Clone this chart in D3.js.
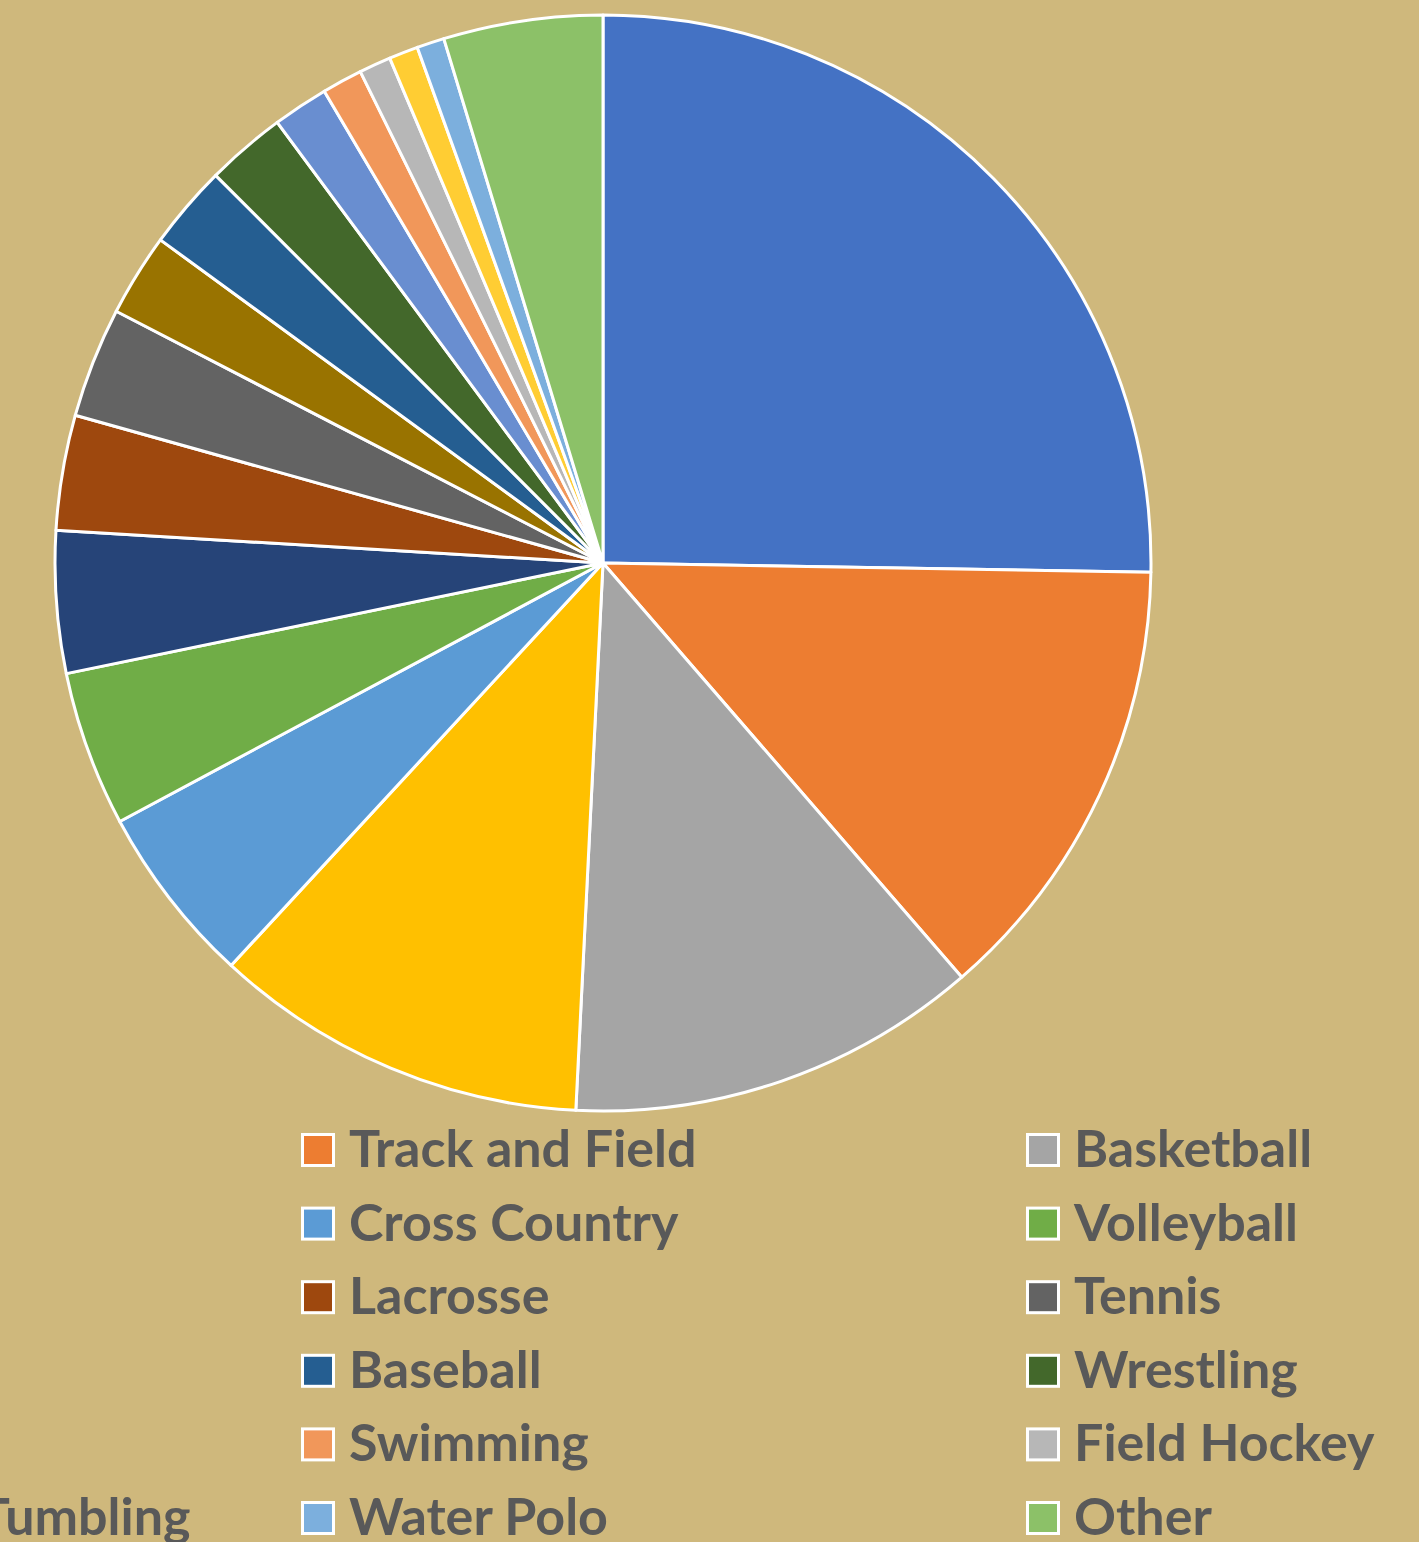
<!DOCTYPE html>
<html>
<head>
<meta charset="utf-8">
<script src="https://cdn.jsdelivr.net/npm/d3@7"></script>
<style>
  html, body { margin: 0; padding: 0; background: #cfb87c; overflow: hidden; }
  .legend text { font-family: Lato, "Open Sans", sans-serif; font-weight: bold; fill: #595959; }
</style>
</head>
<body>
<div class="graph_wrapper"></div>
<script>
  // sports, in slice order (clockwise from 12 o'clock)
  var sports = ['Football', 'Track and Field', 'Basketball', 'Soccer', 'Cross Country', 'Volleyball',
    'Softball', 'Lacrosse', 'Tennis', 'Golf', 'Baseball', 'Wrestling',
    'Ice Hockey', 'Swimming', 'Field Hockey', 'Acrobatics and Tumbling', 'Water Polo', 'Other'];
  // share of each sport, percent
  var shares = [25.26, 13.37, 12.15, 11.08, 5.31, 4.58,
    4.19, 3.39, 3.25, 2.44, 2.47, 2.36,
    1.64, 1.19, 0.94, 0.86, 0.81, 4.69];
  var colors = ['#4472c4', '#ed7d31', '#a5a5a5', '#ffc000', '#5b9bd5', '#70ad47',
    '#264478', '#9e480e', '#636363', '#997300', '#255e91', '#43682b',
    '#698ed0', '#f1975a', '#b7b7b7', '#ffcd33', '#7cafdd', '#8cc168'];

  var dataset = sports.map(function (s, i) { return { label: s, value: shares[i] }; });

  var width = 1419;
  var height = 1542;
  var cx = 603, cy = 563;
  var radius = 548;

  var color = d3.scaleOrdinal().domain(sports).range(colors);

  var svg = d3.select('.graph_wrapper').append('svg')
    .attr('width', width).attr('height', height);

  svg.append('rect').attr('width', width).attr('height', height).attr('fill', '#cfb87c');

  var g = svg.append('g').attr('transform', 'translate(' + cx + ',' + cy + ')');

  var arc = d3.arc().innerRadius(0).outerRadius(radius);
  var pie = d3.pie().value(function (d) { return d.value; }).sort(null);

  g.selectAll('path').data(pie(dataset)).enter().append('path')
    .attr('d', arc)
    .attr('fill', function (d) { return color(d.data.label); })
    .attr('stroke', '#fff')
    .attr('stroke-width', 3)
    .attr('stroke-linejoin', 'round');

  // legend: 3 columns, row by row; first column falls off the left edge
  var colX = [-424, 301, 1026];
  var rowY = 1150, rowStep = 73.6;
  var boxSize = 31;

  var legend = svg.selectAll('.legend').data(sports).enter().append('g')
    .attr('class', 'legend')
    .attr('transform', function (d, i) {
      var x = colX[i % 3];
      var y = rowY + Math.floor(i / 3) * rowStep;
      return 'translate(' + x + ',' + y + ')';
    });

  legend.append('rect')
    .attr('x', 1.5).attr('y', -boxSize / 2)
    .attr('width', boxSize).attr('height', boxSize)
    .attr('fill', color)
    .attr('stroke', '#fff').attr('stroke-width', 3);

  legend.append('text')
    .attr('x', 48).attr('y', 17)
    .style('font-size', '52px')
    .text(function (d) { return d; });
</script>
</body>
</html>
